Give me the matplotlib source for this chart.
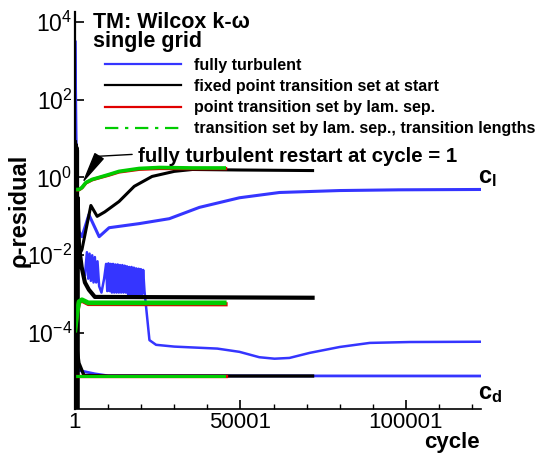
import numpy as np
import matplotlib
matplotlib.use('Agg')
import matplotlib.pyplot as plt
from matplotlib.lines import Line2D
from matplotlib.ticker import FixedLocator, FuncFormatter

plt.rcParams['font.family'] = ['Liberation Sans', 'DejaVu Sans']
plt.rcParams['mathtext.fontset'] = 'custom'
plt.rcParams['mathtext.rm'] = 'Liberation Sans'
plt.rcParams['mathtext.bf'] = 'Liberation Sans:bold'
plt.rcParams['mathtext.it'] = 'Liberation Sans:italic'

# ---- data ----
# fully turbulent (blue)
blue_cl_cyc = [1, 600, 2100, 4200, 7300, 10300, 19400, 28500, 37600, 49700, 61800, 80000, 98000, 122700]
blue_cl_val = [3e3, 0.05, 0.03, 0.11, 0.03, 0.051, 0.065, 0.087, 0.17, 0.30, 0.41, 0.46, 0.48, 0.49]

blue_res_cyc = [1, 500, 1500, 3000,
                3600, 4000, 4400, 4800, 5200, 5600, 6000, 6400, 6800, 7300, 8000, 8800,
                9400, 9750, 10100, 10450, 10800, 11150, 11500, 11850, 12200, 12550,
                12900, 13250, 13600, 13950, 14300, 14650, 15000, 15350, 15700, 16050,
                16400, 16750, 17100, 17450, 17800, 18150, 18500, 18850, 19200, 19550,
                19900, 20250, 20600, 21000,
                22500, 24500, 30000, 37600, 43000, 49700, 55700, 60300, 64800, 70900,
                80000, 89100, 101200, 122400]
blue_res_val = [3e3, 2e-2, 6e-3, 3e-3,
                1.2e-2, 2.5e-3, 1.1e-2, 2.2e-3, 1.0e-2, 2.0e-3, 9e-3, 2.0e-3, 7e-3, 1.6e-3, 1.1e-3, 2.5e-3,
                6.0e-3, 1.2e-3, 6.2e-3, 1.2e-3, 6.0e-3, 1.1e-3, 6.0e-3, 1.1e-3, 5.8e-3, 1.1e-3,
                5.8e-3, 1.1e-3, 5.6e-3, 1.1e-3, 5.6e-3, 1.1e-3, 5.4e-3, 1.1e-3, 5.2e-3, 1.0e-3,
                5.0e-3, 1.0e-3, 5.0e-3, 1.0e-3, 4.8e-3, 1.0e-3, 4.6e-3, 1.0e-3, 4.5e-3, 1.0e-3,
                4.4e-3, 1.0e-3, 4.2e-3, 1.2e-3,
                6.6e-5, 5.0e-5, 4.5e-5, 4.2e-5, 4.0e-5, 3.3e-5, 2.4e-5, 2.2e-5, 2.3e-5, 3.1e-5,
                4.4e-5, 5.6e-5, 5.9e-5, 6.0e-5]

blue_cd_cyc = [1, 400, 1200, 6000, 10000, 122400]
blue_cd_val = [3e3, 2e-5, 1.1e-5, 9e-6, 8e-6, 7.9e-6]

# fixed point transition set at start (black)
black_cl_cyc = [1, 1200, 2100, 4800, 6700, 9000, 13300, 17900, 23300, 30000, 35500, 50000, 71800]
black_cl_val = [8, 1e-2, 1.4e-2, 0.19, 0.10, 0.13, 0.24, 0.59, 1.06, 1.43, 1.6, 1.55, 1.5]

black_res_cyc = [1, 100, 200, 300, 400, 500, 600, 700, 800, 1200, 2000, 3000, 4200, 6000, 71800]
black_res_val = [8, 1.0e-6, 7, 1.0e-6, 6, 1.0e-6, 5, 1.0e-6, 0.3, 1.7e-2, 5e-3, 2e-3, 1.3e-3, 8.5e-4, 8.1e-4]

black_cd_cyc = [1, 1200, 2700, 10000, 71800]
black_cd_val = [1e-4, 1.7e-5, 8.2e-6, 7.9e-6, 7.9e-6]

# point transition set by lam. sep. (red)
red_cl_cyc = [1, 1200, 2100, 3300, 5200, 7300, 10300, 13300, 19400, 25500, 35500, 45500]
red_cl_val = [0.48, 0.48, 0.54, 0.72, 0.87, 0.98, 1.15, 1.38, 1.62, 1.70, 1.68, 1.68]
red_res_cyc = [1, 600, 1200, 2100, 4000, 45500]
red_res_val = [1.2e-4, 3.2e-4, 6.2e-4, 6.8e-4, 5.6e-4, 5.5e-4]
red_cd_cyc = [1, 45500]
red_cd_val = [7.8e-6, 7.8e-6]

# transition set by lam. sep., transition lengths (green)
green_cl_cyc = [1, 1200, 2100, 3300, 5200, 7300, 10300, 13300, 19400, 25500, 35500, 45100]
green_cl_val = [0.49, 0.49, 0.55, 0.74, 0.89, 1.0, 1.19, 1.43, 1.70, 1.80, 1.75, 1.75]
green_res_cyc = [1, 600, 1200, 2100, 4000, 45100]
green_res_val = [1.2e-4, 3.3e-4, 6.4e-4, 7.2e-4, 6.0e-4, 6.0e-4]
green_cd_cyc = [1, 45100]
green_cd_val = [8e-6, 8e-6]

labels = ['fully turbulent', 'fixed point transition set at start',
          'point transition set by lam. sep.',
          'transition set by lam. sep., transition lengths']

BLUE = '#3535ff'
BLACK = '#000000'
RED = '#e00000'
GREEN = '#00cc00'

W, H = 538, 453
fig = plt.figure(figsize=(W / 100, H / 100), dpi=100)
ax = fig.add_axes([75 / W, 1 - 409 / H, (481 - 75) / W, (409 - 12) / H])

def px(x, y):
    return x / W, 1 - y / H

# blue
ax.plot(blue_cl_cyc, blue_cl_val, color=BLUE, lw=2.2)
ax.plot(blue_res_cyc, blue_res_val, color=BLUE, lw=1.8)
ax.plot(blue_cd_cyc, blue_cd_val, color=BLUE, lw=2.0)
# black
ax.plot(black_cl_cyc, black_cl_val, color=BLACK, lw=2.2)
ax.plot(black_res_cyc, black_res_val, color=BLACK, lw=3.0)
ax.plot(black_cd_cyc, black_cd_val, color=BLACK, lw=2.4)
# red
ax.plot(red_cl_cyc, red_cl_val, color=RED, lw=2.4)
ax.plot(red_res_cyc, red_res_val, color=RED, lw=3.0)
ax.plot(red_cd_cyc, red_cd_val, color=RED, lw=2.4)
# green
ax.plot(green_cl_cyc, green_cl_val, color=GREEN, lw=2.6)
ax.plot(green_res_cyc, green_res_val, color=GREEN, lw=3.4)
ax.plot(green_cd_cyc, green_cd_val, color=GREEN, lw=2.2)

ax.set_yscale('log')
ax.set_xlim(1, 122700)
ax.set_ylim(10 ** -5.95, 10 ** 4.25)

ax.xaxis.set_major_locator(FixedLocator([1, 50001, 100001]))
ax.xaxis.set_minor_locator(FixedLocator([10001, 20001, 30001, 40001, 60001, 70001,
                                         80001, 90001, 110001, 120001]))
ax.xaxis.set_major_formatter(FuncFormatter(lambda v, p: '%d' % v))
ax.yaxis.set_major_locator(FixedLocator([1e-4, 1e-2, 1, 1e2, 1e4]))
ax.yaxis.set_minor_locator(FixedLocator([]))
ax.yaxis.set_major_formatter(FuncFormatter(lambda v, p: r'$10^{%d}$' % round(np.log10(v))))

ax.tick_params(axis='both', which='major', direction='in', length=6.5, width=1.2)
ax.tick_params(axis='x', which='minor', direction='in', length=3.8, width=1.0)
ax.tick_params(axis='x', pad=2, labelsize=16)
ax.tick_params(axis='y', pad=2, labelsize=16.5)
for s in ['top', 'right']:
    ax.spines[s].set_visible(False)
ax.spines['left'].set_linewidth(1.6)
ax.spines['bottom'].set_linewidth(1.2)

# legend
handles = [Line2D([], [], color=BLUE, lw=1.6),
           Line2D([], [], color=BLACK, lw=1.6),
           Line2D([], [], color=RED, lw=1.6),
           Line2D([], [], color=GREEN, lw=1.6, dashes=(6, 3, 1.5, 3))]
fig.legend(handles, labels, loc='upper left', bbox_to_anchor=px(105, 58),
           frameon=False, prop={'weight': 'bold', 'size': 11.5},
           handlelength=4.75, handletextpad=0.8, labelspacing=0.38,
           borderpad=0, borderaxespad=0)

# texts
fig.text(*px(93, 28), 'TM: Wilcox k-\u03c9', fontsize=15.5, fontweight='bold', va='baseline')
fig.text(*px(93, 47), 'single grid', fontsize=15.5, fontweight='bold', va='baseline')
fig.text(*px(138, 162), 'fully turbulent restart at cycle = 1', fontsize=14.7,
         fontweight='bold', va='baseline')
fig.text(*px(19, 210), '\u03c1-residual', fontsize=17, fontweight='bold',
         rotation=90, ha='center', va='center')
fig.text(*px(424, 448), 'cycle', fontsize=16, fontweight='bold', va='baseline')
fig.text(*px(478, 178), r'$\mathbf{c}_\mathbf{l}$', fontsize=17, va='center')
fig.text(*px(478, 394), r'$\mathbf{c}_\mathbf{d}$', fontsize=17, va='center')

# arrow pointing at the restart
ax.annotate('', xy=(7270, 3.5), xytext=(17270, 3.9),
            arrowprops=dict(arrowstyle='-', color='k', lw=1.0, shrinkA=0, shrinkB=0))
ax.annotate('', xy=(2730, 0.84), xytext=(7270, 3.5),
            arrowprops=dict(arrowstyle='wedge,tail_width=0.35', fc='k', ec='k',
                            mutation_scale=20, shrinkA=0, shrinkB=0))

fig.savefig('out.png', dpi=100)
